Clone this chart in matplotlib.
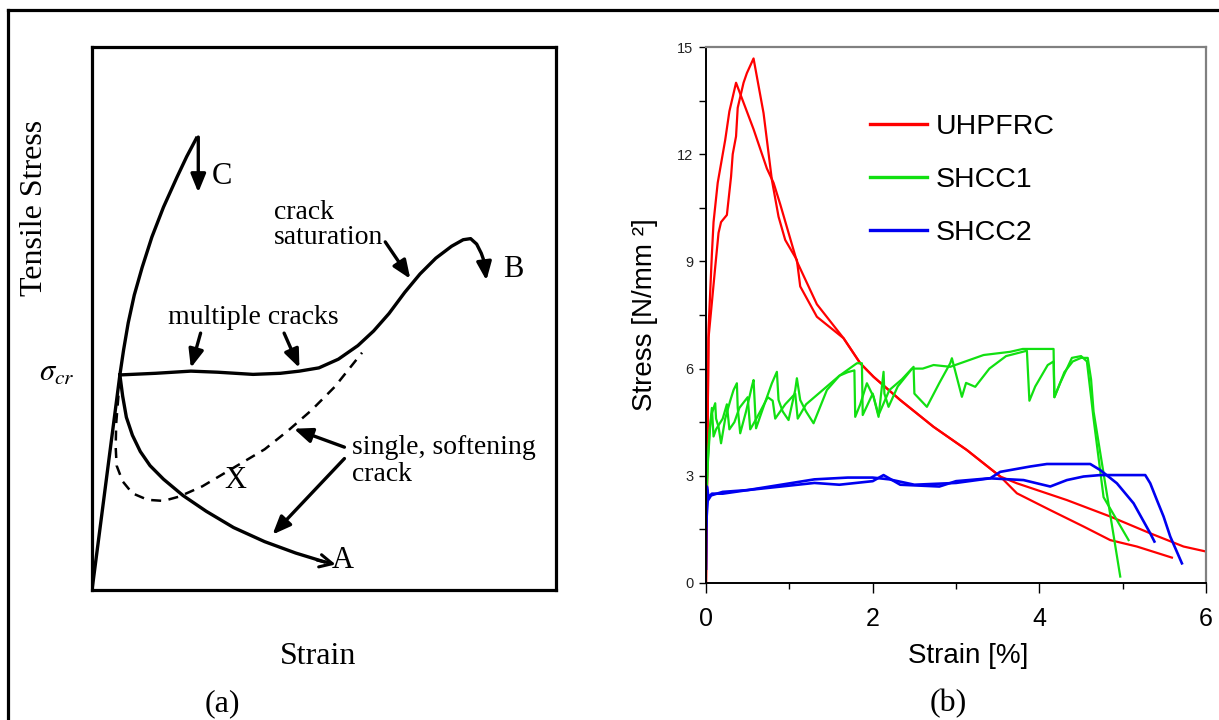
import numpy as np
import matplotlib.pyplot as plt
from matplotlib.lines import Line2D

plt.rcParams['mathtext.fontset'] = 'stix'

#  (a) schematic curves, box units 0-100
c_x = [0, 6.0, 6.8, 7.8, 9.1, 10.8, 12.9, 15.4, 18.3, 20.4, 22.5]
c_y = [0, 39.6, 44.2, 49.2, 54.3, 59.4, 65.0, 70.5, 76.0, 79.8, 83.2]
b_x = [6.0, 13.7, 21.3, 27.1, 34.7, 40.6, 44.7, 48.9, 53.1, 57.3, 60.7, 64.0, 67.4, 70.7,
       74.1, 77.5, 80.0, 81.6, 82.9, 83.9, 84.6]
b_y = [39.6, 39.9, 40.3, 40.1, 39.7, 39.9, 40.3, 40.9, 42.5, 45.0, 47.7, 50.9, 54.8, 58.2,
       61.1, 63.3, 64.5, 64.7, 63.7, 62.0, 60.3]
a_x = [6.0, 6.6, 7.4, 8.7, 10.4, 12.5, 15.4, 19.6, 24.6, 30.5, 37.2, 43.9, 50.0]
a_y = [39.6, 35.7, 31.8, 28.5, 25.5, 22.9, 20.4, 17.4, 14.5, 11.5, 8.9, 6.8, 5.2]
d_x = [6.0, 5.6, 5.2, 5.1, 5.3, 6.6, 8.7, 12.0, 15.4, 18.8, 23.8, 30.5, 37.2, 42.2, 47.3,
       52.3, 58.2]
d_y = [39.0, 34.8, 30.6, 26.3, 22.9, 20.0, 17.8, 16.6, 16.4, 17.2, 19.1, 22.5, 25.9, 29.3,
       33.1, 37.4, 43.7]

#  (b) measured curves: strain [%], stress [N/mm2]
uhp1_strain = [0, 0.01, 0.03, 0.07, 0.09, 0.14, 0.23, 0.28, 0.36, 0.57, 0.73, 0.81, 0.89, 1.09,
               1.33, 1.65, 1.85, 2.01, 2.33, 2.73, 3.13, 3.53, 3.73, 4.33, 4.85, 5.33, 5.73, 6.0]
uhp1_stress = [0, 2.3, 7.1, 9.2, 10.1, 11.2, 12.4, 13.2, 14.0, 12.7, 11.6, 11.2, 10.6, 9.0,
               7.8, 6.85, 6.15, 5.77, 5.12, 4.37, 3.72, 2.98, 2.79, 2.32, 1.86, 1.39, 1.02, 0.88]
uhp2_strain = [0, 0.03, 0.11, 0.15, 0.18, 0.25, 0.30, 0.32, 0.36, 0.38, 0.45, 0.49, 0.57, 0.69,
               0.79, 0.87, 0.95, 1.09, 1.13, 1.33, 1.65, 1.85, 2.01, 2.33, 2.73, 3.13, 3.53,
               3.73, 4.13, 4.53, 4.85, 5.17, 5.59]
uhp2_stress = [0, 6.86, 8.84, 9.8, 10.1, 10.3, 11.37, 12.0, 12.5, 13.3, 14.0, 14.27, 14.68, 13.15,
               11.28, 10.25, 9.6, 9.04, 8.3, 7.45, 6.85, 6.15, 5.77, 5.12, 4.37, 3.72, 2.98,
               2.51, 2.04, 1.58, 1.2, 1.02, 0.71]

shcc1a_strain = [0, 0.02, 0.05, 0.07, 0.11, 0.12, 0.15, 0.18, 0.23, 0.29, 0.33, 0.37, 0.38,
                 0.41, 0.48, 0.55, 0.57, 0.60, 0.70, 0.79, 0.85, 0.87, 0.92, 0.99, 1.07, 1.09,
                 1.13, 1.20, 1.29, 1.45, 1.60, 1.70, 1.78, 1.79, 1.85, 1.93, 2.01, 2.07, 2.13,
                 2.14, 2.19, 2.30, 2.49, 2.50, 2.65, 2.80, 2.93, 2.95, 3.07, 3.12, 3.23, 3.40,
                 3.60, 3.85, 3.88, 3.95, 4.10, 4.17, 4.18, 4.25, 4.39, 4.50, 4.57, 4.62, 4.65,
                 4.77, 5.07]
shcc1a_stress = [2.0, 3.3, 4.4, 4.75, 5.03, 4.6, 4.37, 3.91, 4.6, 5.1, 5.4, 5.59, 4.9,
                 4.19, 4.8, 5.5, 5.68, 4.33, 5.0, 5.59, 5.91, 5.12, 4.8, 4.56, 5.4, 5.73,
                 5.12, 4.8, 4.47, 5.4, 5.8, 5.9, 5.95, 4.65, 5.0, 5.59, 5.21, 4.65, 5.91,
                 5.3, 4.93, 5.5, 6.05, 5.3, 4.93, 5.6, 6.15, 6.29, 5.21, 5.6, 5.49, 6.0,
                 6.35, 6.5, 5.1, 5.5, 6.1, 6.2, 5.2, 5.6, 6.3, 6.35, 6.2, 5.2, 4.6,
                 2.4, 1.2]
shcc1b_strain = [0, 0.02, 0.04, 0.07, 0.09, 0.12, 0.20, 0.25, 0.28, 0.34, 0.40, 0.50, 0.53,
                 0.58, 0.65, 0.74, 0.80, 0.83, 0.95, 1.07, 1.10, 1.20, 1.30, 1.40, 1.60, 1.81,
                 1.87, 1.88, 2.00, 2.07, 2.20, 2.35, 2.47, 2.60, 2.73, 2.93, 3.33, 3.65, 3.80,
                 4.17, 4.18, 4.30, 4.40, 4.50, 4.58, 4.62, 4.65, 4.97]
shcc1b_stress = [2.3, 3.4, 4.2, 4.9, 4.1, 4.3, 4.6, 5.0, 4.3, 4.5, 4.9, 5.2, 4.3,
                 4.5, 4.8, 5.2, 5.1, 4.6, 5.0, 5.3, 4.6, 5.0, 5.2, 5.4, 5.8, 6.15,
                 6.15, 4.7, 5.3, 4.7, 5.4, 5.7, 6.0, 6.0, 6.1, 6.05, 6.38, 6.47, 6.55,
                 6.55, 5.2, 5.9, 6.2, 6.3, 6.3, 5.7, 4.8, 0.18]

shcc2a_strain = [0, 0.005, 0.01, 0.03, 0.07, 0.2, 0.5, 0.9, 1.3, 1.6, 2.0, 2.13, 2.33, 2.8, 3.0,
                 3.4, 3.81, 4.13, 4.33, 4.53, 4.73, 5.27, 5.33, 5.41, 5.49, 5.57, 5.71]
shcc2a_stress = [0.4, 1.8, 2.7, 2.4, 2.5, 2.5, 2.6, 2.7, 2.8, 2.75, 2.85, 3.02, 2.75, 2.7, 2.85,
                 2.93, 2.88, 2.7, 2.88, 2.98, 3.02, 3.02, 2.79, 2.32, 1.86, 1.3, 0.55]
shcc2b_strain = [0, 0.02, 0.06, 0.2, 0.5, 0.9, 1.3, 1.7, 2.0, 2.2, 2.5, 3.0, 3.41, 3.53, 3.89,
                 4.09, 4.61, 4.73, 4.93, 5.13, 5.33, 5.38]
shcc2b_stress = [1.6, 2.3, 2.45, 2.55, 2.6, 2.75, 2.9, 2.95, 2.95, 2.9, 2.75, 2.8, 2.93, 3.11, 3.26,
                 3.33, 3.33, 3.16, 2.79, 2.23, 1.39, 1.16]

red, green, blue = '#ff0000', '#11e011', '#0000f0'
serif = 'Liberation Serif'
sans = 'Liberation Sans'

fig = plt.figure(figsize=(12.19, 7.2), dpi=100)

# outer frame (left and top edges)
fig.add_artist(Line2D([8/1219, 8/1219], [0, 1 - 10/720], color='k', lw=2.3, transform=fig.transFigure))
fig.add_artist(Line2D([8/1219, 1], [1 - 10/720, 1 - 10/720], color='k', lw=2.3, transform=fig.transFigure))

# ---------- (a) ----------
axa = fig.add_axes([0.0755, 0.1806, 0.3806, 0.7542])
axa.set_xlim(0, 100)
axa.set_ylim(0, 100)
axa.set_xticks([])
axa.set_yticks([])
for s in axa.spines.values():
    s.set_linewidth(2.3)

lw = 2.4
axa.plot(c_x, c_y, color='k', lw=lw, solid_joinstyle='round')
axa.plot(b_x, b_y, color='k', lw=lw, solid_joinstyle='round')
axa.plot(a_x, a_y, color='k', lw=lw, solid_joinstyle='round')
axa.plot(d_x, d_y, color='k', lw=1.8, dashes=(4, 3))

head = '-|>,head_length=1.1,head_width=0.45'
arrow = dict(arrowstyle=head, lw=2.4, color='k', shrinkA=0, shrinkB=0)
axa.annotate('', xy=(22.9, 73.2), xytext=(22.9, 83.4), arrowprops=arrow)
axa.annotate('', xy=(85.0, 57.0), xytext=(84.5, 60.5), arrowprops=arrow)
axa.annotate('', xy=(52.5, 4.7), xytext=(48.5, 5.5),
             arrowprops=dict(arrowstyle='->,head_length=0.9,head_width=0.45', lw=2.2,
                             color='k', shrinkA=0, shrinkB=0))
axa.annotate('', xy=(21.3, 40.9), xytext=(23.4, 47.3), arrowprops=arrow)
axa.annotate('', xy=(44.7, 40.9), xytext=(41.4, 47.3), arrowprops=arrow)
axa.annotate('', xy=(68.6, 57.3), xytext=(63.2, 64.1), arrowprops=arrow)
axa.annotate('', xy=(43.5, 29.7), xytext=(54.4, 26.3), arrowprops=arrow)
axa.annotate('', xy=(38.9, 10.2), xytext=(54.4, 24.2), arrowprops=arrow)

tk = dict(family=serif, color='k')
axa.text(28.0, 74.7, 'C', fontsize=22, ha='center', va='baseline', **tk)
axa.text(90.7, 57.7, 'B', fontsize=22, ha='center', va='baseline', **tk)
axa.text(54.0, 4.1, 'A', fontsize=22, ha='center', va='baseline', **tk)
axa.text(30.9, 18.7, 'X', fontsize=22, ha='center', va='baseline', **tk)
axa.text(34.7, 49.0, 'multiple cracks', fontsize=20, ha='center', va='baseline', **tk)
axa.text(39.2, 68.3, 'crack', fontsize=20, ha='left', va='baseline', **tk)
axa.text(39.2, 63.7, 'saturation', fontsize=20, ha='left', va='baseline', **tk)
axa.text(56.0, 25.1, 'single, softening', fontsize=20, ha='left', va='baseline', **tk)
axa.text(56.0, 20.1, 'crack', fontsize=20, ha='left', va='baseline', **tk)
axa.text(-7.7, 38.6, r'$\sigma_{cr}$', fontsize=22, ha='center', va='baseline', clip_on=False)

fig.text(318/1219, 1 - 664/720, 'Strain', fontsize=23, ha='center', va='baseline', **tk)
fig.text(35/1219, 1 - 208/720, 'Tensile Stress', fontsize=23, ha='center', va='center',
         rotation=90, **tk)
fig.text(222/1219, 1 - 704/720, '(a)', fontsize=23, ha='center', va='center', **tk)
fig.text(948/1219, 1 - 704/720, '(b)', fontsize=23, ha='center', va='center', **tk)

# ---------- (b) ----------
axb = fig.add_axes([0.5792, 0.1903, 0.4102, 0.7444])
axb.plot(uhp1_strain, uhp1_stress, color=red, lw=1.6, label='UHPFRC')
axb.plot(uhp2_strain, uhp2_stress, color=red, lw=1.6)
axb.plot(shcc1a_strain, shcc1a_stress, color=green, lw=1.6, label='SHCC1')
axb.plot(shcc1b_strain, shcc1b_stress, color=green, lw=1.6)
axb.plot(shcc2a_strain, shcc2a_stress, color=blue, lw=1.9, label='SHCC2')
axb.plot(shcc2b_strain, shcc2b_stress, color=blue, lw=1.9)

axb.set_xlim(0, 6)
axb.set_ylim(0, 15)
axb.set_xticks([0, 2, 4, 6])
axb.set_xticks([1, 3, 5], minor=True)
axb.set_yticks([0, 3, 6, 9, 12, 15])
axb.set_yticks(np.arange(1.5, 15, 3), minor=True)
axb.tick_params(axis='x', which='major', length=7, width=1, pad=10, labelsize=18)
axb.tick_params(axis='x', which='minor', length=4, width=1)
axb.tick_params(axis='y', which='both', length=5, width=1, pad=4, labelsize=10.5,
                labelcolor='#222222')
for lab in axb.get_xticklabels() + axb.get_yticklabels():
    lab.set_family(sans)
for side in ['left', 'bottom']:
    axb.spines[side].set_linewidth(1.4)
for side in ['top', 'right']:
    axb.spines[side].set_linewidth(1.6)
    axb.spines[side].set_color('#808080')

axb.set_xlabel('Strain [%]', fontsize=20, family=sans)
axb.xaxis.set_label_coords(0.524, -0.112)
axb.set_ylabel('Stress [N/mm ²]', fontsize=20, family=sans)
axb.yaxis.set_label_coords(-0.096, 0.5)

leg = axb.legend(loc='upper left', bbox_to_anchor=(0.328, 0.875), frameon=False,
                 prop={'family': sans, 'size': 20.5}, handlelength=2.0,
                 handletextpad=0.3, labelspacing=0.95, borderpad=0, borderaxespad=0)
for h in leg.get_lines():
    h.set_linewidth(2.4)

fig.savefig('out.png', dpi=100)
